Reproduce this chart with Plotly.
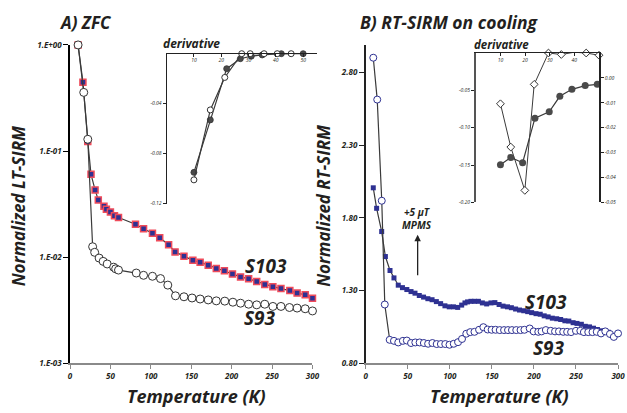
import plotly.graph_objects as go

# ---------------- DATA ----------------
# Panel A (ZFC), normalized LT-SIRM
a_s103_T = [10, 16, 22, 26, 31, 35, 42, 45, 50, 55, 60, 81, 91, 102, 111, 122, 130, 141, 152, 161,
            171, 181, 191, 201, 211, 221, 231, 241, 251, 261, 272, 281, 291, 300]
a_s103_v = [1.0, 0.445, 0.123, 0.0603, 0.043, 0.0346, 0.0302, 0.0282, 0.0266, 0.0246, 0.0236, 0.0204,
            0.0185, 0.0168, 0.0152, 0.0131, 0.0112, 0.0102, 0.00933, 0.00894, 0.0084, 0.00781, 0.00745,
            0.00694, 0.00651, 0.00624, 0.0059, 0.00553, 0.00527, 0.00505, 0.00484, 0.00458, 0.00442, 0.00409]
a_s93_T = [10, 17, 22, 28, 30.5, 36, 41, 46, 54, 56.5, 60, 82, 91, 102, 112, 121, 130.5, 141, 151, 161,
           171, 181, 191.5, 201.5, 211, 221, 231, 241, 251, 261, 271.5, 281, 291, 300]
a_s93_v = [1.0, 0.357, 0.129, 0.01253, 0.0111, 0.0098, 0.00912, 0.00862, 0.00804, 0.00776, 0.00755,
           0.00708, 0.00674, 0.0066, 0.00628, 0.00545, 0.00432, 0.00423, 0.00412, 0.00403, 0.00395,
           0.00387, 0.00385, 0.00376, 0.00368, 0.0036, 0.00355, 0.0036, 0.00343, 0.00343, 0.00335,
           0.00331, 0.00326, 0.00311]

# Panel A inset: derivative
ai_fill_T = [10, 16, 22, 27, 31, 35, 42, 50]
ai_fill_v = [-0.095, -0.053, -0.012, -0.004, -0.002, -0.001, 0.0, 0.0]
ai_open_T = [10, 16, 21.3, 27.5, 30.6, 35.7, 40.5, 45.6]
ai_open_v = [-0.101, -0.045, -0.019, 0.0, 0.0, 0.0, 0.0, 0.0]

# Panel B (RT-SIRM on cooling)
b_s103_T = [9, 13, 19, 23.4, 28.9, 33.6, 38.7, 43.7, 48.9, 53.9, 58.6, 63.7, 68.8, 73.9, 78.9, 84, 89.1,
            94.2, 99.3, 104.3, 109.4, 114.1, 118, 121.1, 125.1, 129.3, 134, 138.7, 143.8, 148.9, 153.6,
            158.6, 163.3, 168.5, 173.2, 178.2, 182.9, 187.9, 192.6, 197.3, 202.5, 207.5, 212.2, 216.9,
            221.9, 227.1, 231.8, 236.8, 241.5, 246.6, 251.2, 256.4, 261.1, 266.1, 270.8, 275.5, 279.4,
            284, 288.5]
b_s103_v = [2.007, 1.866, 1.706, 1.534, 1.438, 1.387, 1.337, 1.320, 1.307, 1.293, 1.282, 1.266, 1.255,
            1.244, 1.237, 1.224, 1.210, 1.195, 1.188, 1.188, 1.184, 1.200, 1.215, 1.222, 1.226, 1.226,
            1.226, 1.215, 1.208, 1.215, 1.217, 1.204, 1.193, 1.188, 1.182, 1.173, 1.166, 1.161, 1.155,
            1.148, 1.141, 1.137, 1.126, 1.119, 1.110, 1.106, 1.101, 1.092, 1.090, 1.079, 1.074, 1.068,
            1.054, 1.050, 1.041, 1.032, 1.023, 1.018, 1.013]
b_s93_T = [9, 13.7, 19.1, 22.7, 28.5, 33.6, 38.7, 44.2, 48.9, 53.9, 59, 64.1, 69.2, 74.2, 79.3, 84.4,
           89.4, 94.6, 99.6, 104.7, 109.8, 114.5, 119.6, 124.3, 129.3, 134.8, 139.9, 145, 149.7, 154.4,
           159.4, 164.5, 169.2, 173.9, 179, 184.1, 188.7, 195, 199.7, 205.2, 209.1, 214.2, 220, 225.1,
           229.8, 234.8, 239.5, 244.2, 250, 255.2, 259.4, 264.6, 269.6, 274.7, 279.8, 284.9, 290.4,
           295, 300]
b_s93_v = [2.902, 2.614, 1.918, 1.204, 0.961, 0.954, 0.943, 0.954, 0.956, 0.939, 0.943, 0.943, 0.939,
           0.934, 0.939, 0.932, 0.932, 0.932, 0.927, 0.934, 0.945, 0.967, 1.003, 1.014, 1.016, 1.030,
           1.048, 1.032, 1.030, 1.030, 1.028, 1.028, 1.028, 1.028, 1.028, 1.028, 1.030, 1.039, 1.019,
           1.016, 1.019, 1.028, 1.023, 1.019, 1.019, 1.016, 1.016, 1.014, 1.023, 1.023, 1.014, 1.014,
           1.014, 1.016, 1.005, 1.019, 1.001, 0.981, 1.005]

# Panel B inset: derivative (open on left axis, filled on right axis)
bi_open_T = [10, 14.2, 19.9, 23.7, 29.5, 34.7, 39.9, 44.8, 50]
bi_open_v = [-0.068, -0.126, -0.184, -0.042, 0.0, -0.002, 0.001, 0.0, -0.003]
bi_fill_T = [10, 14.2, 19, 24, 29.8, 34.1, 39, 44.4, 49.3]
bi_fill_v = [-0.0349, -0.032, -0.0341, -0.0162, -0.0136, -0.0074, -0.0046, -0.0031, -0.0026]

a_ytick_vals = [1, 0.1, 0.01, 0.001]
a_ytick_text = ["1.E+00", "1.E-01", "1.E-02", "1.E-03"]
x_ticks = [0, 50, 100, 150, 200, 250, 300]
b_ytick_vals = [0.8, 1.3, 1.8, 2.3, 2.8]
b_ytick_text = ["0.80", "1.30", "1.80", "2.30", "2.80"]
ai_ytick_vals = [0, -0.04, -0.08, -0.12]
ai_ytick_text = ["0.00", "-0.04", "-0.08", "-0.12"]
bi_yl_vals = [0, -0.05, -0.10, -0.15, -0.20]
bi_yl_text = ["0.00", "-0.05", "-0.10", "-0.15", "-0.20"]
bi_yr_vals = [0.01, 0, -0.01, -0.02, -0.03, -0.04, -0.05]
bi_yr_text = ["0.01", "0.00", "-0.01", "-0.02", "-0.03", "-0.04", "-0.05"]
inset_x_ticks = [0, 10, 20, 30, 40, 50]

# ---------------- STYLE ----------------
W, H = 627, 413
FONT = "Open Sans"
TXT = "#231f20"
LINE = "#3a3a3a"
BLUE = "#2e3192"
RED = "#ef4b5a"
GREY = "#8a8a8a"


def dx(px):
    return px / W


def dy(py):
    return 1 - py / H


bi = dict(family=FONT, color=TXT, weight="bold", style="italic")

fig = go.Figure()

# Panel A main
fig.add_trace(go.Scatter(x=a_s103_T, y=a_s103_v, mode="lines+markers", xaxis="x", yaxis="y",
                         line=dict(color=LINE, width=1.2),
                         marker=dict(symbol="square", size=6, color=BLUE, line=dict(color=RED, width=1.5)),
                         cliponaxis=False))
fig.add_trace(go.Scatter(x=a_s93_T, y=a_s93_v, mode="lines+markers", xaxis="x", yaxis="y",
                         line=dict(color=LINE, width=1.2),
                         marker=dict(symbol="circle", size=8, color="white", line=dict(color="#333333", width=1)),
                         cliponaxis=False))
# Panel A inset
fig.add_trace(go.Scatter(x=ai_fill_T, y=ai_fill_v, mode="lines+markers", xaxis="x2", yaxis="y2",
                         line=dict(color=LINE, width=1.2),
                         marker=dict(symbol="circle", size=6, color="#4a4a4a", line=dict(color="#333", width=0.8)),
                         cliponaxis=False))
fig.add_trace(go.Scatter(x=ai_open_T, y=ai_open_v, mode="lines+markers", xaxis="x2", yaxis="y2",
                         line=dict(color=LINE, width=1.2),
                         marker=dict(symbol="circle", size=6, color="white", line=dict(color="#333", width=1)),
                         cliponaxis=False))
# Panel B main
fig.add_trace(go.Scatter(x=b_s103_T, y=b_s103_v, mode="lines+markers", xaxis="x3", yaxis="y3",
                         line=dict(color=LINE, width=1.2),
                         marker=dict(symbol="square", size=5, color=BLUE, line=dict(width=0)),
                         cliponaxis=False))
fig.add_trace(go.Scatter(x=b_s93_T, y=b_s93_v, mode="lines+markers", xaxis="x3", yaxis="y3",
                         line=dict(color=LINE, width=1.2),
                         marker=dict(symbol="circle", size=7, color="white", line=dict(color=BLUE, width=1)),
                         cliponaxis=False))
# Panel B inset
fig.add_trace(go.Scatter(x=bi_open_T, y=bi_open_v, mode="lines+markers", xaxis="x4", yaxis="y4",
                         line=dict(color=LINE, width=1),
                         marker=dict(symbol="diamond", size=6, color="white", line=dict(color="#333", width=1)),
                         cliponaxis=False))
fig.add_trace(go.Scatter(x=bi_fill_T, y=bi_fill_v, mode="lines+markers", xaxis="x4", yaxis="y5",
                         line=dict(color=LINE, width=1.2),
                         marker=dict(symbol="circle", size=7, color="#4a4a4a", line=dict(width=0)),
                         cliponaxis=False))

tick_main = dict(bi, size=8)
tick_small = dict(family=FONT, color=TXT, style="italic", size=5)

fig.update_layout(
    width=W, height=H, margin=dict(l=0, r=0, t=0, b=0),
    paper_bgcolor="white", plot_bgcolor="rgba(0,0,0,0)", showlegend=False,
    xaxis=dict(domain=[dx(69), dx(315)], range=[0, 300], anchor="y", tickvals=x_ticks,
               showgrid=False, zeroline=False, showline=True, linecolor=GREY, linewidth=2,
               ticks="outside", ticklen=4, tickcolor=GREY, tickfont=tick_main),
    yaxis=dict(domain=[dy(367), dy(40)], type="log", range=[-3, 0], anchor="x",
               tickvals=a_ytick_vals, ticktext=a_ytick_text, showgrid=False, zeroline=False,
               showline=True, linecolor="black", linewidth=1.5, ticks="outside", ticklen=5,
               tickcolor="black", tickfont=tick_main),
    xaxis2=dict(domain=[dx(167), dx(319.4)], range=[0, 55], anchor="y2", side="top",
                ticklabelposition="inside", tickvals=inset_x_ticks, showgrid=False, zeroline=False,
                showline=True, linecolor="#222", linewidth=1.2, ticks="inside", ticklen=3,
                tickcolor="#222", tickfont=tick_small),
    yaxis2=dict(domain=[dy(203), dy(49)], range=[-0.12, 0], anchor="x2",
                tickvals=ai_ytick_vals, ticktext=ai_ytick_text, showgrid=False, zeroline=False,
                showline=True, linecolor="#222", linewidth=1.2, ticks="outside", ticklen=3,
                tickcolor="#222", tickfont=tick_small),
    xaxis3=dict(domain=[dx(369), dx(625)], range=[0, 300], anchor="y3", tickvals=x_ticks,
                showgrid=False, zeroline=False, showline=True, linecolor=GREY, linewidth=2,
                ticks="outside", ticklen=4, tickcolor=GREY, tickfont=tick_main),
    yaxis3=dict(domain=[dy(367), dy(40)], range=[0.8, 2.99], anchor="x3",
                tickvals=b_ytick_vals, ticktext=b_ytick_text, showgrid=False, zeroline=False,
                showline=True, linecolor="#222", linewidth=1.5, ticks="outside", ticklen=5,
                tickcolor="#222", tickfont=tick_main),
    xaxis4=dict(domain=[dx(480.7), dx(605.7)], range=[0, 50], anchor="y4", side="top",
                ticklabelposition="inside", tickvals=inset_x_ticks, showgrid=False, zeroline=False,
                showline=True, linecolor="#222", linewidth=1.2, ticks="inside", ticklen=3,
                tickcolor="#222", tickfont=tick_small),
    yaxis4=dict(domain=[dy(201.7), dy(48.3)], range=[-0.2, 0], anchor="x4",
                tickvals=bi_yl_vals, ticktext=bi_yl_text, showgrid=False, zeroline=False,
                showline=True, linecolor="#555", linewidth=1.5, ticks="outside", ticklen=3,
                tickcolor="#222", tickfont=tick_small),
    yaxis5=dict(range=[-0.05, 0.01], overlaying="y4", side="right", anchor="x4",
                tickvals=bi_yr_vals, ticktext=bi_yr_text, showgrid=False, zeroline=False,
                showline=True, linecolor="#222", linewidth=1.5, ticks="outside", ticklen=3,
                tickcolor="#222", tickfont=tick_small),
)

ann = [
    dict(text="A) ZFC", x=dx(85), y=dy(17), size=17),
    dict(text="B) RT-SIRM on cooling", x=dx(454), y=dy(16.5), size=17.5),
    dict(text="Temperature (K)", x=dx(197), y=dy(401), size=18),
    dict(text="Temperature (K)", x=dx(505), y=dy(401), size=18),
    dict(text="Normalized LT-SIRM", x=dx(17), y=dy(205), size=17, textangle=-90),
    dict(text="Normalized RT-SIRM", x=dx(326), y=dy(205), size=17, textangle=-90),
    dict(text="S103", x=dx(268), y=dy(267), size=19),
    dict(text="S93", x=dx(262), y=dy(321), size=19),
    dict(text="S103", x=dx(552), y=dy(304), size=19),
    dict(text="S93", x=dx(555), y=dy(351), size=19),
    dict(text="derivative", x=dx(192), y=dy(39), size=12),
    dict(text="derivative", x=dx(507), y=dy(39.5), size=11.5),
    dict(text="+5 μT<br>MPMS", x=dx(421), y=dy(218), size=10),
]
for a in ann:
    fig.add_annotation(text=a["text"], x=a["x"], y=a["y"], xref="paper", yref="paper",
                       showarrow=False, xanchor="center", yanchor="middle",
                       textangle=a.get("textangle", 0), borderpad=0,
                       font=dict(bi, size=a["size"]))

# arrow (head at top, tail 42 px below)
fig.add_annotation(x=dx(421.7), y=dy(235), ax=0, ay=42, xref="paper", yref="paper",
                   text="", showarrow=True, arrowhead=2,
                   arrowsize=1, arrowwidth=1.3, arrowcolor="#222")

fig.write_html("out.html")
